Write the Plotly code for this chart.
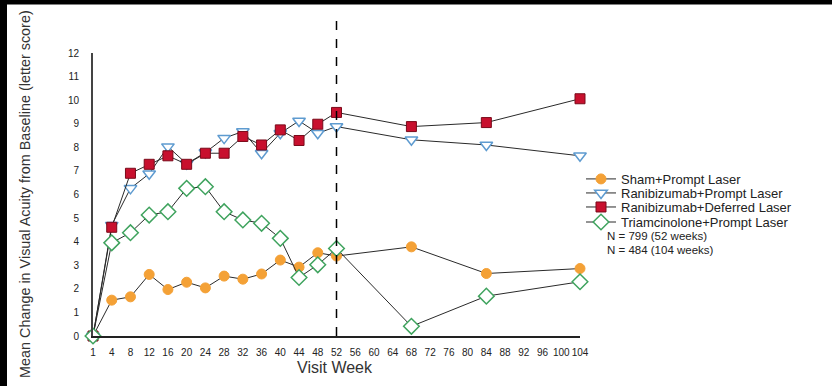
import plotly.graph_objects as go

# ---------------- data ----------------
tick_labels = ["1", "4", "8", "12", "16", "20", "24", "28", "32", "36", "40", "44", "48",
               "52", "56", "60", "64", "68", "72", "76", "80", "84", "88", "92", "96", "100", "104"]
weeks = ["1", "4", "8", "12", "16", "20", "24", "28", "32", "36", "40", "44", "48", "52", "68", "84", "104"]

sham_prompt = [0, 1.52, 1.66, 2.61, 1.97, 2.28, 2.04, 2.54, 2.41, 2.63, 3.22, 2.92, 3.53, 3.39, 3.78, 2.65, 2.86]
rani_prompt = [0, 4.7, 6.26, 6.88, 8.03, 7.3, 7.78, 8.39, 8.67, 7.75, 8.6, 9.12, 8.6, 8.88, 8.32, 8.1, 7.64]
rani_deferred = [0, 4.61, 6.9, 7.28, 7.64, 7.28, 7.75, 7.75, 8.46, 8.1, 8.74, 8.29, 8.98, 9.48, 8.88, 9.05, 10.06]
triam_prompt = [0, 3.95, 4.38, 5.13, 5.27, 6.26, 6.33, 5.27, 4.92, 4.78, 4.14, 2.48, 3.02, 3.71, 0.41, 1.69, 2.3]

series_names = ["Sham+Prompt Laser", "Ranibizumab+Prompt Laser",
                "Ranibizumab+Deferred Laser", "Triamcinolone+Prompt Laser"]
n_notes = ["N = 799 (52 weeks)", "N = 484 (104 weeks)"]
y_title = "Mean Change in Visual Acuity from Baseline (letter score)"
x_title = "Visit Week"
cutoff_week = "52"

# ---------------- layout geometry ----------------
W, H = 832, 386
L, R, T, B = 93, 580, 53.3, 335.7
PW, PH = R - L, B - T


def px_x(p):
    return (p - L) / PW


def px_y(p):
    return (B - p) / PH


fig = go.Figure()

line_style = dict(color="#2a2a2a", width=1)
styles = [
    dict(symbol="circle", size=10, color="#F4A136", line=dict(color="#F4A136", width=1)),
    dict(symbol="triangle-down", size=11, color="white", line=dict(color="#5E9BD0", width=1.5)),
    dict(symbol="square", size=10, color="#C8102E", line=dict(color="#7A0A1A", width=1)),
    dict(symbol="diamond", size=12, color="white", line=dict(color="#3FA35E", width=1.5)),
]
all_series = [sham_prompt, rani_prompt, rani_deferred, triam_prompt]
legend_ids = ["legend", "legend2", "legend3", "legend4"]

for name, vals, st, lg in zip(series_names, all_series, styles, legend_ids):
    fig.add_trace(go.Scatter(
        x=weeks, y=vals, name=name, mode="lines+markers",
        line=line_style, marker=st, cliponaxis=False, legend=lg,
    ))

legend_px_y = [179, 193, 207, 222]
legend_font = dict(family="Liberation Sans, Arial, sans-serif", size=13, color="#222222")
note_font = dict(family="Liberation Sans, Arial, sans-serif", size=11.5, color="#222222")
legend_layouts = {}
for lg, py in zip(legend_ids, legend_px_y):
    legend_layouts[lg] = dict(
        x=px_x(581), xanchor="left", y=px_y(py), yanchor="middle",
        bgcolor="rgba(0,0,0,0)", font=legend_font, borderwidth=0,
        tracegroupgap=0, itemwidth=30,
    )

cut_idx = tick_labels.index(cutoff_week)

shapes = [
    # black frame of the scanned image (top and left)
    dict(type="rect", xref="paper", yref="paper", layer="above",
         x0=px_x(0), x1=px_x(W), y0=px_y(0), y1=px_y(5),
         fillcolor="black", line=dict(width=0)),
    dict(type="rect", xref="paper", yref="paper", layer="above",
         x0=px_x(0), x1=px_x(7), y0=px_y(0), y1=px_y(H),
         fillcolor="black", line=dict(width=0)),
    # dashed 52-week reference line
    dict(type="line", xref="x", yref="paper", x0=cut_idx, x1=cut_idx,
         y0=0, y1=px_y(18), line=dict(color="black", width=1.5, dash="dash")),
]

annotations = [
    dict(text=y_title, textangle=-90, xref="paper", yref="paper",
         x=px_x(25), y=px_y(194), xanchor="center", yanchor="middle", showarrow=False,
         font=dict(family="Liberation Sans, Arial, sans-serif", size=14.4, color="#333333")),
    dict(text=x_title, xref="paper", yref="paper",
         x=px_x(335), y=px_y(367), xanchor="center", yanchor="middle", showarrow=False,
         font=dict(family="Liberation Sans, Arial, sans-serif", size=16, color="#333333")),
]
for note, py in zip(n_notes, [236, 250]):
    annotations.append(dict(text=note, xref="paper", yref="paper",
                            x=px_x(605), y=px_y(py), xanchor="left", yanchor="middle",
                            showarrow=False, font=note_font))

tick_font = dict(family="Liberation Sans, Arial, sans-serif", size=10, color="#222222")

fig.update_layout(
    width=W, height=H,
    margin=dict(l=L, r=W - R, t=T, b=H - B, pad=0),
    paper_bgcolor="white", plot_bgcolor="rgba(0,0,0,0)",
    showlegend=True,
    shapes=shapes, annotations=annotations,
    xaxis=dict(type="category", categoryorder="array", categoryarray=tick_labels,
               tickmode="array", tickvals=tick_labels, ticktext=tick_labels,
               range=[0, len(tick_labels) - 1], tickangle=0,
               showgrid=False, zeroline=False, showline=True, linecolor="#222222", linewidth=1.5,
               ticks="", tickfont=tick_font, ticklabelstandoff=6),
    yaxis=dict(range=[0, 12], dtick=1, tick0=0,
               showgrid=False, zeroline=False, showline=True, linecolor="#444444", linewidth=2,
               ticks="", tickfont=tick_font, ticklabelstandoff=10),
    **legend_layouts,
)

fig.write_html("out.html", config={"displayModeBar": False},
               post_script="document.body.style.margin='0';document.body.style.overflow='hidden';")
